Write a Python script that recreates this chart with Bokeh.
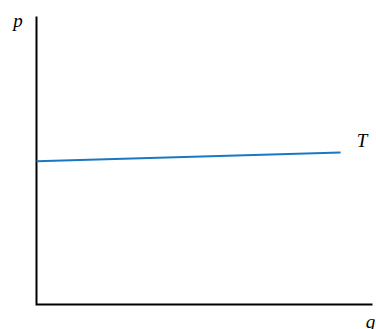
from bokeh.plotting import figure
from bokeh.models import Range1d, Label, ColumnDataSource
from bokeh.embed import file_html
from bokeh.resources import INLINE

# Line T: price p against quantity q
q_vals = [0.0, 9.05]
p_vals = [4.97, 5.28]
line_name = "T"
x_name = "q"
y_name = "p"

# Axes drawn as an L-shaped path: top of p axis, origin, end of q axis
axis_q = [0.0, 0.0, 10.0]
axis_p = [10.0, 0.0, 0.0]

FONT = "Liberation Serif"

p = figure(width=376, height=329, output_backend="svg", toolbar_location=None,
           x_range=Range1d(-1.0714, 10.119), y_range=Range1d(-0.868, 10.556),
           min_border=0)
p.axis.visible = False
p.outline_line_color = None
p.grid.visible = False
p.background_fill_color = "white"
p.border_fill_color = "white"

p.line(axis_q, axis_p, line_color="black", line_width=2, line_join="miter")

src = ColumnDataSource(dict(q=q_vals, p=p_vals))
p.line("q", "p", source=src, line_color="#1a78c2", line_width=2)

style = dict(text_font=FONT, text_font_style="italic", text_font_size="19px",
             text_color="black", text_align="center", text_baseline="alphabetic")
p.add_layout(Label(x=q_vals[-1] + 0.64, y=p_vals[-1] + 0.42, text=line_name, **style))
p.add_layout(Label(x=-0.55, y=9.86, text=y_name, **style))
p.add_layout(Label(x=9.94, y=-0.60, text=x_name, **style))

open("out.html", "w").write(file_html(p, INLINE))
